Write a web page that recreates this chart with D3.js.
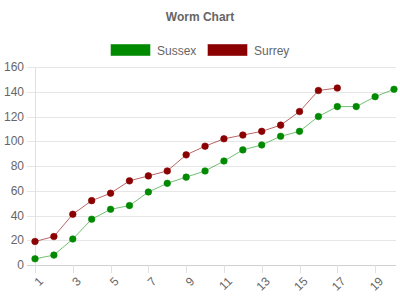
<!DOCTYPE html>
<html>
<head>
<meta charset="utf-8">
<script src="https://cdn.jsdelivr.net/npm/d3@7"></script>
<style>
  body { margin: 0; background: #fff; }
  svg { display: block; font-family: "Liberation Sans", Arial, sans-serif; }
</style>
</head>
<body>
<svg width="400" height="300"></svg>
<script>
var rounds = d3.range(1, 21);
var sussex = [5, 8, 21, 37, 45, 48, 59, 66, 71, 76, 84, 93, 97, 104, 108, 120, 128, 128, 136, 142];
var surrey = [19, 23, 41, 52, 58, 68, 72, 76, 89, 96, 102, 105, 108, 113, 124, 141, 143];
var yTicks = [0, 20, 40, 60, 80, 100, 120, 140, 160];

var series = [
  { name: "Sussex", values: sussex, fill: "#008a00", line: "rgba(0,138,0,0.55)" },
  { name: "Surrey", values: surrey, fill: "#8b0000", line: "rgba(139,0,0,0.6)" }
];

var svg = d3.select("svg");

var x = d3.scaleLinear().domain([1, 20]).range([35, 394]);
var y = d3.scaleLinear().domain([0, 160]).range([265, 67]);

// title
svg.append("text")
  .attr("x", 200).attr("y", 21)
  .attr("text-anchor", "middle")
  .attr("font-size", 12).attr("font-weight", "bold")
  .attr("fill", "#666")
  .text("Worm Chart");

// legend
var legend = svg.append("g").attr("class", "legend");
var lx = [111, 208];
series.forEach(function(s, i) {
  legend.append("rect")
    .attr("x", lx[i]).attr("y", 44.5)
    .attr("width", 39).attr("height", 11)
    .attr("fill", s.fill).attr("stroke", s.line);
  legend.append("text")
    .attr("x", lx[i] + 46).attr("y", 54.5)
    .attr("font-size", 12).attr("fill", "#666")
    .text(s.name);
});

// y grid + labels
var grid = svg.append("g").attr("class", "grid");
grid.selectAll("line")
  .data(yTicks)
  .enter().append("line")
  .attr("x1", 27).attr("x2", 396)
  .attr("y1", function(d) { return Math.round(y(d)) + 0.5; })
  .attr("y2", function(d) { return Math.round(y(d)) + 0.5; })
  .attr("stroke", function(d) { return d === 0 ? "#d0d0d0" : "#e6e6e6"; });

svg.append("line")
  .attr("x1", 35.5).attr("x2", 35.5)
  .attr("y1", 67).attr("y2", 273)
  .attr("stroke", "#e0e0e0");

svg.append("g").selectAll("text")
  .data(yTicks)
  .enter().append("text")
  .attr("x", 24).attr("y", function(d) { return y(d) + 4; })
  .attr("text-anchor", "end")
  .attr("font-size", 12).attr("fill", "#666")
  .text(function(d) { return d; });

// x ticks, only odd rounds shown
var xShown = rounds.filter(function(d) { return d % 2 === 1; });
svg.append("g").selectAll("line")
  .data(xShown)
  .enter().append("line")
  .attr("x1", function(d) { return Math.round(x(d)) + 0.5; })
  .attr("x2", function(d) { return Math.round(x(d)) + 0.5; })
  .attr("y1", 265).attr("y2", 273)
  .attr("stroke", "#e0e0e0");

svg.append("g").selectAll("text")
  .data(xShown)
  .enter().append("text")
  .attr("transform", function(d) { return "translate(" + (x(d) + 6) + ",279) rotate(-45)"; })
  .attr("text-anchor", "end")
  .attr("dy", "0.35em")
  .attr("font-size", 12).attr("fill", "#666")
  .text(function(d) { return d; });

// lines and points
var line = d3.line()
  .x(function(d, i) { return x(rounds[i]); })
  .y(function(d) { return y(d); });

series.forEach(function(s) {
  svg.append("path")
    .datum(s.values)
    .attr("d", line)
    .attr("fill", "none")
    .attr("stroke", s.line)
    .attr("stroke-width", 1);
  svg.append("g").selectAll("circle")
    .data(s.values)
    .enter().append("circle")
    .attr("cx", function(d, i) { return x(rounds[i]); })
    .attr("cy", function(d) { return y(d); })
    .attr("r", 3.3)
    .attr("fill", s.fill)
    .attr("stroke", s.line)
    .attr("stroke-width", 1);
});
</script>
</body>
</html>
